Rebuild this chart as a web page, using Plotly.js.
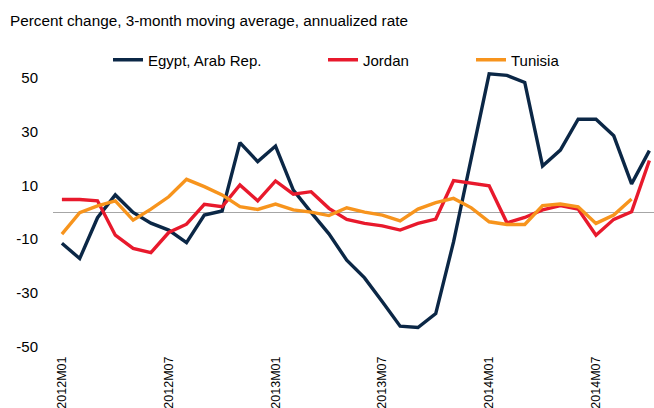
<!DOCTYPE html>
<html>
<head>
<meta charset="utf-8">
<script src="https://cdn.plot.ly/plotly-3.0.1.min.js"></script>
<style>
  html, body { margin: 0; padding: 0; background: #ffffff; }
  #chart { width: 654px; height: 408px; }
</style>
</head>
<body>
<div id="chart"></div>
<script>
const months = [
  "2012M01","2012M02","2012M03","2012M04","2012M05","2012M06",
  "2012M07","2012M08","2012M09","2012M10","2012M11","2012M12",
  "2013M01","2013M02","2013M03","2013M04","2013M05","2013M06",
  "2013M07","2013M08","2013M09","2013M10","2013M11","2013M12",
  "2014M01","2014M02","2014M03","2014M04","2014M05","2014M06",
  "2014M07","2014M08","2014M09","2014M10"
];
const tickLabels = ["2012M01","2012M07","2013M01","2013M07","2014M01","2014M07"];
const yTicks = [-50, -30, -10, 10, 30, 50];

const egypt = [
  -11.5, -17.2, -2.0, 6.5, 0.0, -4.0, -6.6, -11.3, -1.0, 0.5,
  26.0, 18.9, 24.7, 8.3, 0.0, -8.0, -17.8, -24.4, -33.3, -42.4,
  -42.9, -37.7, -11.0, 20.0, 51.6, 51.0, 48.4, 17.3, 23.2, 34.7,
  34.7, 28.5, 10.6, 23.0
];
const jordan = [
  4.8, 4.8, 4.3, -8.5, -13.4, -15.0, -7.5, -4.4, 3.0, 2.1,
  10.2, 4.3, 11.7, 6.8, 7.7, 1.5, -2.6, -4.1, -5.0, -6.6,
  -4.1, -2.5, 11.8, 10.8, 9.9, -3.9, -1.9, 0.9, 2.5, 1.2,
  -8.5, -2.6, 0.2, 19.3
];
const tunisia = [
  -8.1, -0.1, 2.4, 4.3, -2.9, 1.2, 5.8, 12.3, 9.6, 6.5,
  2.1, 1.1, 3.1, 0.9, 0.1, -1.2, 1.7, 0.1, -1.0, -3.2,
  1.2, 3.6, 5.2, 1.7, -3.5, -4.5, -4.5, 2.5, 3.1, 2.1,
  -4.1, -1.0, 5.0
];

const seriesNames = ["Egypt, Arab Rep.", "Jordan", "Tunisia"];
const seriesColors = ["#0b2746", "#e8192c", "#f7941d"];

const FONT = "Liberation Sans, Arial, Helvetica, sans-serif";

const traces = [
  { x: months.slice(0, egypt.length), y: egypt, name: seriesNames[0], legend: "legend",
    type: "scatter", mode: "lines", line: { color: seriesColors[0], width: 3.4 } },
  { x: months.slice(0, jordan.length), y: jordan, name: seriesNames[1], legend: "legend2",
    type: "scatter", mode: "lines", line: { color: seriesColors[1], width: 3.4 } },
  { x: months.slice(0, tunisia.length), y: tunisia, name: seriesNames[2], legend: "legend3",
    type: "scatter", mode: "lines", line: { color: seriesColors[2], width: 3.4 } }
];

function legendAt(xpx) {
  return {
    xref: "container", yref: "container",
    x: xpx / 654, y: 1 - 60 / 408, xanchor: "left", yanchor: "middle",
    orientation: "h", bgcolor: "rgba(0,0,0,0)", borderwidth: 0,
    font: { family: FONT, size: 15, color: "#000000" }
  };
}

const layout = {
  width: 654, height: 408,
  paper_bgcolor: "#ffffff", plot_bgcolor: "#ffffff",
  margin: { l: 53, r: 0, t: 62, b: 56, pad: 0, autoexpand: false },
  font: { family: FONT, color: "#000000" },
  title: {
    text: "Percent change, 3-month moving average, annualized rate",
    x: 10 / 654, xanchor: "left", xref: "container",
    y: 1 - 21 / 408, yanchor: "middle", yref: "container",
    font: { family: FONT, size: 15.3, color: "#000000" }
  },
  showlegend: true,
  legend: legendAt(108),
  legend2: legendAt(323),
  legend3: legendAt(471),
  xaxis: {
    type: "category",
    range: [-0.5, 33.26],
    tickmode: "array", tickvals: tickLabels, ticktext: tickLabels,
    tickangle: -90, ticks: "", showgrid: false, showline: false, zeroline: false,
    tickfont: { family: FONT, size: 12.5, color: "#000000" },
    ticklabelstandoff: 1,
    automargin: false,
    fixedrange: true
  },
  yaxis: {
    range: [-52, 56],
    tickmode: "array", tickvals: yTicks, ticktext: yTicks.map(String),
    ticks: "", showgrid: false, showline: false,
    zeroline: true, zerolinecolor: "#a6a6a6", zerolinewidth: 1.5,
    tickfont: { family: FONT, size: 15, color: "#000000" },
    ticklabelstandoff: 14,
    automargin: false,
    fixedrange: true
  },
  hovermode: false
};

Plotly.newPlot("chart", traces, layout, { displayModeBar: false, staticPlot: true });
</script>
</body>
</html>
